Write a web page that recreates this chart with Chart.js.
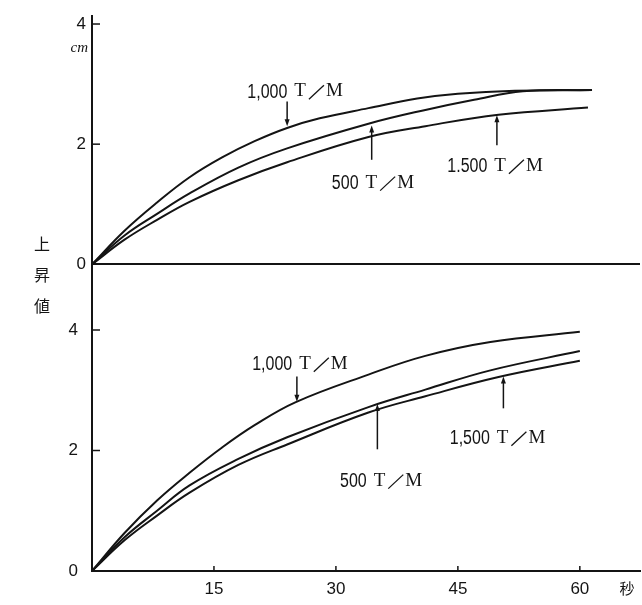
<!DOCTYPE html>
<html>
<head>
<meta charset="utf-8">
<script src="https://cdn.jsdelivr.net/npm/chart.js@4"></script>
<style>
  html, body { margin: 0; padding: 0; background: #fff; }
  #wrap { width: 642px; height: 605px; }
</style>
</head>
<body>
<div id="wrap"><canvas id="c" width="642" height="605"></canvas></div>
<script>
// time (seconds) / rise (cm)
const upperTime1000 = [0, 4, 8, 12, 16, 20, 24, 28, 34, 40, 45, 52, 61.5];
const upperRise1000 = [0, 0.56, 1.03, 1.45, 1.78, 2.05, 2.27, 2.43, 2.6, 2.76, 2.84, 2.89, 2.9];
const upperTime500 = [0, 4, 8, 12, 18, 24, 34, 41, 47, 53, 61.5];
const upperRise500 = [0, 0.48, 0.84, 1.18, 1.61, 1.93, 2.34, 2.57, 2.74, 2.88, 2.9];
const upperTime1500 = [0, 4, 8, 12, 18, 24, 34, 41, 50, 61];
const upperRise1500 = [0, 0.41, 0.74, 1.04, 1.4, 1.7, 2.12, 2.3, 2.49, 2.61];

const lowerTime1000 = [0, 4, 8, 12, 16, 20, 25, 34, 41, 49, 60];
const lowerRise1000 = [0, 0.63, 1.17, 1.63, 2.05, 2.42, 2.8, 3.26, 3.57, 3.8, 3.97];
const lowerTime500 = [0, 4, 8, 12, 18, 24, 34, 41, 49, 60];
const lowerRise500 = [0, 0.56, 1.0, 1.42, 1.86, 2.22, 2.72, 3.01, 3.33, 3.65];
const lowerTime1500 = [0, 4, 8, 12, 18, 24, 34, 41, 50, 60];
const lowerRise1500 = [0, 0.51, 0.92, 1.3, 1.76, 2.1, 2.63, 2.9, 3.22, 3.49];

const xTicks = [15, 30, 45, 60];
const yTicks = [0, 2, 4];

// speed labels: [number, panel, text x (s), text y (cm), arrow x (s), arrow from (cm), arrow to (cm)]
const notes = [
  ['1,000', 'yTop', 19.1, 2.88, 24.0, 2.71, 2.30],
  ['500', 'yTop', 29.5, 1.36, 34.4, 1.74, 2.31],
  ['1.500', 'yTop', 43.7, 1.64, 49.8, 1.98, 2.48],
  ['1,000', 'yBot', 19.7, 3.44, 25.2, 3.23, 2.81],
  ['500', 'yBot', 30.5, 1.50, 35.1, 2.02, 2.77],
  ['1,500', 'yBot', 44.0, 2.21, 50.6, 2.70, 3.23]
];

const INK = '#141414';
const SANS = "'Liberation Sans', 'DejaVu Sans', sans-serif";
const SERIF = "'Liberation Serif', 'DejaVu Serif', serif";
const CJK = "'Noto Sans CJK JP', sans-serif";

const pts = (ts, vs) => ts.map((t, i) => ({ x: t, y: vs[i] }));

function curve(ts, vs, axis) {
  return {
    data: pts(ts, vs),
    yAxisID: axis,
    borderColor: INK,
    borderWidth: 2,
    pointRadius: 0,
    fill: false,
    tension: 0.4
  };
}

const decor = {
  id: 'decor',
  afterDraw(chart) {
    const { ctx, chartArea } = chart;
    const x = chart.scales.x, yTop = chart.scales.yTop, yBot = chart.scales.yBot;
    ctx.save();
    ctx.strokeStyle = INK;
    ctx.fillStyle = INK;
    ctx.lineWidth = 1.5;

    // inward tick marks
    xTicks.forEach(v => {
      const px = x.getPixelForValue(v);
      ctx.beginPath();
      ctx.moveTo(px, x.top);
      ctx.lineTo(px, x.top - 5);
      ctx.stroke();
    });
    [yTop, yBot].forEach(s => {
      yTicks.filter(v => v > 0).forEach(v => {
        const py = s.getPixelForValue(v);
        ctx.beginPath();
        ctx.moveTo(chartArea.left, py);
        ctx.lineTo(chartArea.left + 8, py);
        ctx.stroke();
      });
    });

    // unit labels
    ctx.font = 'italic 15px ' + SERIF;
    ctx.textAlign = 'right';
    ctx.textBaseline = 'middle';
    ctx.fillText('cm', chartArea.left - 4, yTop.getPixelForValue(3.6));

    ctx.font = '15px ' + CJK;
    ctx.textAlign = 'center';
    ctx.fillText('秒', x.getPixelForValue(65.8), x.top + 17);

    ctx.font = '16px ' + CJK;
    const mid = yTop.bottom;
    ['上', '昇', '値'].forEach((ch, i) => {
      ctx.fillText(ch, chartArea.left - 50, mid - 20 + i * 31);
    });

    // speed labels with arrows
    notes.forEach(([num, axis, tx, ty, ax, a0, a1]) => {
      const s = chart.scales[axis];
      let px = x.getPixelForValue(tx);
      const py = s.getPixelForValue(ty);
      ctx.textAlign = 'left';
      ctx.textBaseline = 'middle';
      ctx.font = '20px ' + SANS;
      const w = ctx.measureText(num).width * 0.8;
      ctx.save();
      ctx.translate(px, py + 1);
      ctx.scale(0.8, 1);
      ctx.fillText(num, 0, 0);
      ctx.restore();
      px += w + 7;
      ctx.font = '19px ' + SERIF;
      ctx.fillText('T', px, py);
      px += ctx.measureText('T').width + 3;
      ctx.lineWidth = 1.3;
      ctx.beginPath();
      ctx.moveTo(px, py + 8);
      ctx.lineTo(px + 15, py - 6);
      ctx.stroke();
      px += 17;
      ctx.fillText('M', px, py);

      const qx = x.getPixelForValue(ax);
      const q0 = s.getPixelForValue(a0), q1 = s.getPixelForValue(a1);
      const dir = q1 > q0 ? 1 : -1;
      ctx.lineWidth = 1.5;
      ctx.beginPath();
      ctx.moveTo(qx, q0);
      ctx.lineTo(qx, q1 - dir * 6);
      ctx.stroke();
      ctx.beginPath();
      ctx.moveTo(qx, q1);
      ctx.lineTo(qx - 2.5, q1 - dir * 7);
      ctx.lineTo(qx + 2.5, q1 - dir * 7);
      ctx.closePath();
      ctx.fill();
    });
    ctx.restore();
  }
};

const tickFont = { family: SANS, size: 17 };

new Chart(document.getElementById('c'), {
  type: 'line',
  data: {
    datasets: [
      curve(lowerTime1000, lowerRise1000, 'yBot'),
      curve(lowerTime500, lowerRise500, 'yBot'),
      curve(lowerTime1500, lowerRise1500, 'yBot'),
      curve(upperTime1000, upperRise1000, 'yTop'),
      curve(upperTime500, upperRise500, 'yTop'),
      curve(upperTime1500, upperRise1500, 'yTop')
    ]
  },
  options: {
    responsive: false,
    animation: false,
    layout: { padding: { left: 32, right: 2, top: 12, bottom: 0 } },
    plugins: { legend: { display: false }, tooltip: { enabled: false } },
    scales: {
      x: {
        type: 'linear',
        min: 0,
        max: 67.4,
        afterBuildTicks: s => { s.ticks = xTicks.map(v => ({ value: v })); },
        afterFit: s => { s.height = 34; },
        grid: { display: false },
        border: { display: true, color: INK, width: 2 },
        ticks: { color: INK, font: tickFont, padding: 0 }
      },
      yBot: {
        type: 'linear',
        position: 'left',
        stack: 'panels',
        stackWeight: 309,
        min: 0,
        max: 5.09,
        afterBuildTicks: s => { s.ticks = yTicks.map(v => ({ value: v })); },
        afterFit: s => { s.width = 60; },
        grid: { display: false },
        border: { display: true, color: INK, width: 2 },
        ticks: { color: INK, font: tickFont, padding: 6 }
      },
      yTop: {
        type: 'linear',
        position: 'left',
        stack: 'panels',
        stackWeight: 250,
        min: 0,
        max: 4.13,
        afterBuildTicks: s => { s.ticks = yTicks.map(v => ({ value: v })); },
        afterFit: s => { s.width = 60; },
        grid: {
          display: true,
          drawTicks: false,
          lineWidth: 2,
          color: c => (c.tick && c.tick.value === 0 ? INK : 'rgba(0,0,0,0)')
        },
        border: { display: true, color: INK, width: 2 },
        ticks: { color: INK, font: tickFont, padding: 6 }
      }
    }
  },
  plugins: [decor]
});
</script>
</body>
</html>
